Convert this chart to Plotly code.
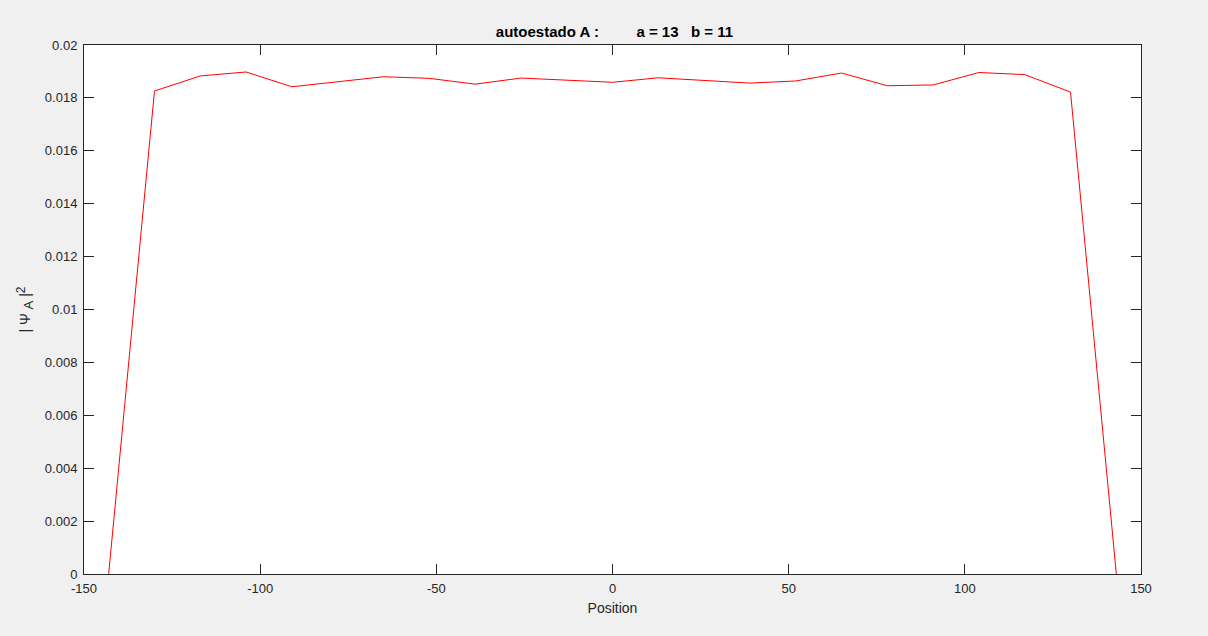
import plotly.graph_objects as go

positions = [-143, -130, -117, -104, -91, -78, -65, -52, -39, -26, -13, 0,
             13, 26, 39, 52, 65, 78, 91, 104, 117, 130, 143]
psi_sq = [0.0, 0.01826, 0.01883, 0.01898, 0.01842, 0.01861, 0.01880, 0.01874,
          0.01852, 0.01875, 0.01867, 0.01859, 0.01876, 0.01866, 0.01856, 0.01864,
          0.01894, 0.01846, 0.01849, 0.01896, 0.01888, 0.01822, 0.0]

x_ticks = [-150, -100, -50, 0, 50, 100, 150]
x_tick_text = ["-150", "-100", "-50", "0", "50", "100", "150"]
y_ticks = [0, 0.002, 0.004, 0.006, 0.008, 0.01, 0.012, 0.014, 0.016, 0.018, 0.02]
y_tick_text = ["0", "0.002", "0.004", "0.006", "0.008", "0.01", "0.012",
               "0.014", "0.016", "0.018", "0.02"]

FONT = "Liberation Sans, Arial, Helvetica, sans-serif"

fig = go.Figure()
fig.add_trace(go.Scatter(x=positions, y=psi_sq, mode="lines",
                         line=dict(color="#ff0000", width=1), showlegend=False,
                         hoverinfo="x+y"))

axis_common = dict(
    showgrid=False, zeroline=False, showline=True, linecolor="#262626",
    linewidth=1, mirror="ticks", ticks="inside", ticklen=10, tickwidth=1,
    tickcolor="#262626", tickfont=dict(family=FONT, size=13, color="#262626"),
)

fig.update_layout(
    width=1208, height=636,
    paper_bgcolor="#f0f0f0", plot_bgcolor="#ffffff",
    margin=dict(l=84, r=67, t=45, b=62),
    title=dict(text="<b>autoestado A :\u00a0\u00a0\u00a0\u00a0\u00a0\u00a0\u00a0\u00a0\u00a0a = 13\u00a0\u00a0\u00a0b = 11</b>",
               x=(496 + 733) / 2 / 1208, xanchor="center", y=1 - 32 / 636, yanchor="middle",
               font=dict(family=FONT, size=15, color="#000000")),
    xaxis=dict(range=[-150, 150], tickvals=x_ticks, ticktext=x_tick_text,
               ticklabelstandoff=2,
               title=dict(text="Position", font=dict(family=FONT, size=14, color="#262626"),
                          standoff=8),
               **axis_common),
    yaxis=dict(range=[0, 0.02], tickvals=y_ticks, ticktext=y_tick_text,
               ticklabelstandoff=3,
               title=dict(text="| Ψ <sub><span style=\"font-size:13px\">A</span></sub> |<sup><span style=\"font-size:12px\">2</span></sup>",
                          font=dict(family=FONT, size=14, color="#262626"),
                          standoff=10),
               **axis_common),
)

fig.write_html("out.html", config={"displayModeBar": False},
               post_script="document.body.style.margin='0';document.body.style.background='#f0f0f0';")
